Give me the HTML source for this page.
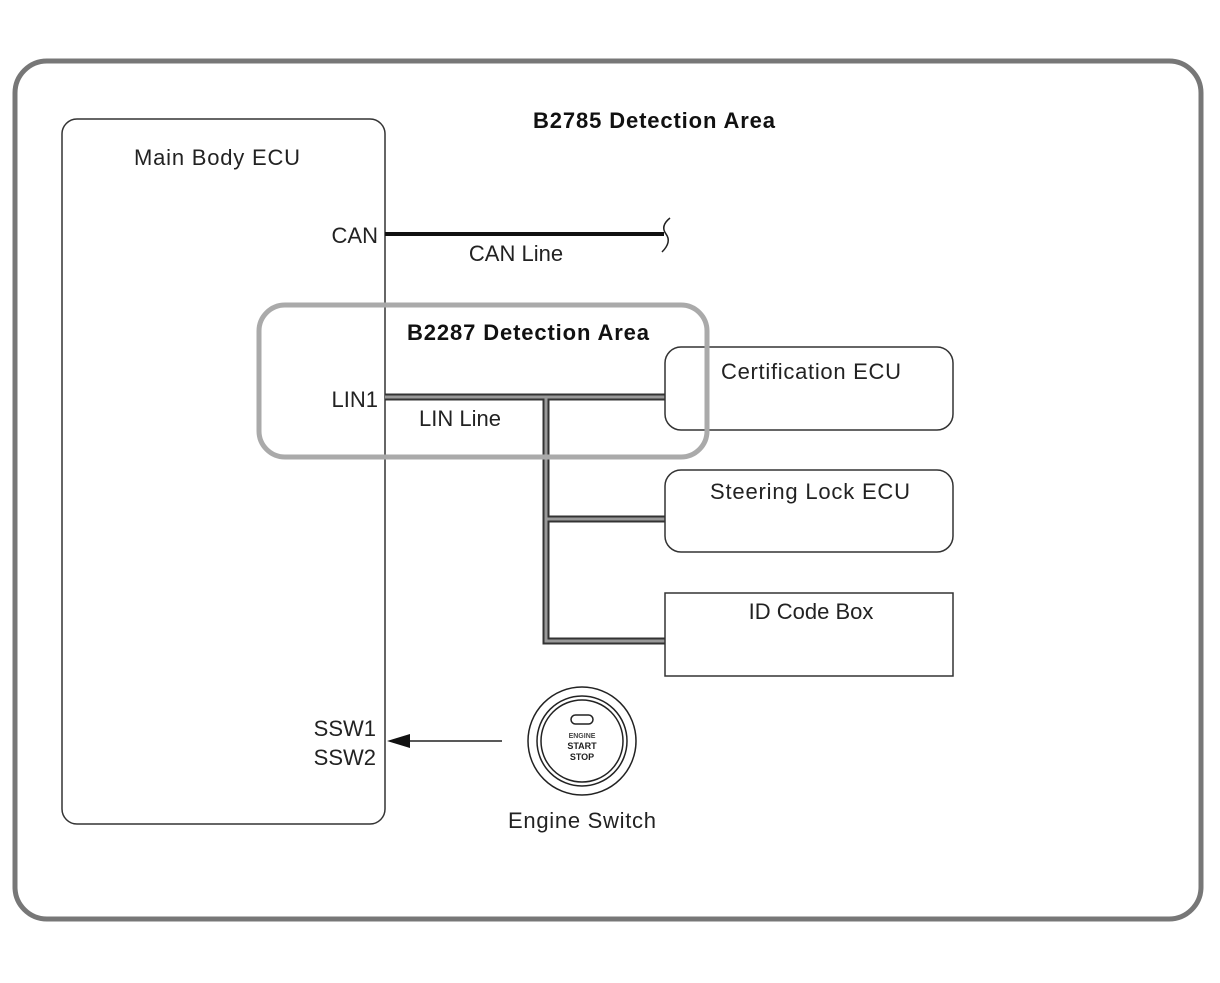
<!DOCTYPE html>
<html><head><style>body{margin:0;background:#fff}</style></head><body>
<svg width="1220" height="978" xmlns="http://www.w3.org/2000/svg" font-family="Liberation Sans, Arial, sans-serif">
<rect x="0" y="0" width="1220" height="978" fill="#fff"/>
<rect x="15" y="61" width="1186" height="858" rx="32" fill="none" stroke="#777" stroke-width="5"/>
<text x="654" y="128" font-size="22" font-weight="bold" text-anchor="middle" fill="#111" textLength="242">B2785 Detection Area</text>
<rect x="62" y="119" width="323" height="705" rx="15" fill="none" stroke="#333" stroke-width="1.5"/>
<text x="217" y="165" font-size="22" text-anchor="middle" fill="#222" textLength="166">Main Body ECU</text>
<text x="378" y="243" font-size="22" text-anchor="end" fill="#222">CAN</text>
<line x1="385" y1="234" x2="664" y2="234" stroke="#111" stroke-width="4"/>
<path d="M670 218 q-10 8 -4 16 q6 8 -4 18" fill="none" stroke="#222" stroke-width="1.5"/>
<text x="516" y="261" font-size="22" text-anchor="middle" fill="#222">CAN Line</text>
<g fill="none" stroke-linejoin="miter">
<path d="M385 397 H665 M546 397 V641 H665 M546 519 H665" stroke="#333" stroke-width="7"/>
<path d="M385 397 H665 M546 397 V641 H665 M546 519 H665" stroke="#999" stroke-width="3"/>
</g>
<text x="378" y="407" font-size="22" text-anchor="end" fill="#222">LIN1</text>
<text x="460" y="426" font-size="22" text-anchor="middle" fill="#222">LIN Line</text>
<rect x="665" y="347" width="288" height="83" rx="16" fill="none" stroke="#333" stroke-width="1.5"/>
<text x="811" y="379" font-size="22" text-anchor="middle" fill="#222" textLength="180">Certification ECU</text>
<rect x="665" y="470" width="288" height="82" rx="16" fill="none" stroke="#333" stroke-width="1.5"/>
<text x="810" y="499" font-size="22" text-anchor="middle" fill="#222" textLength="200">Steering Lock ECU</text>
<rect x="665" y="593" width="288" height="83" fill="none" stroke="#333" stroke-width="1.5"/>
<text x="811" y="619" font-size="22" text-anchor="middle" fill="#222">ID Code Box</text>
<rect x="259" y="305" width="448" height="152" rx="26" fill="none" stroke="#aaa" stroke-width="5"/>
<text x="528" y="340" font-size="22" font-weight="bold" text-anchor="middle" fill="#111" textLength="242">B2287 Detection Area</text>
<text x="376" y="736" font-size="22" text-anchor="end" fill="#222">SSW1</text>
<text x="376" y="765" font-size="22" text-anchor="end" fill="#222">SSW2</text>
<line x1="400" y1="741" x2="502" y2="741" stroke="#222" stroke-width="1.5"/>
<polygon points="387,741 410,734 410,748" fill="#111"/>
<circle cx="582" cy="741" r="54" fill="none" stroke="#222" stroke-width="1.5"/>
<circle cx="582" cy="741" r="45" fill="none" stroke="#222" stroke-width="1.5"/>
<circle cx="582" cy="741" r="41" fill="none" stroke="#222" stroke-width="1.5"/>
<rect x="571" y="715" width="22" height="9" rx="4.5" fill="none" stroke="#222" stroke-width="1.5"/>
<text x="582" y="738" font-size="7" text-anchor="middle" fill="#444" font-weight="bold">ENGINE</text>
<text x="582" y="749" font-size="9" text-anchor="middle" fill="#222" font-weight="bold">START</text>
<text x="582" y="760" font-size="9" text-anchor="middle" fill="#222" font-weight="bold">STOP</text>
<text x="582" y="828" font-size="22" text-anchor="middle" fill="#222" textLength="148">Engine Switch</text>
</svg>
</body></html>
